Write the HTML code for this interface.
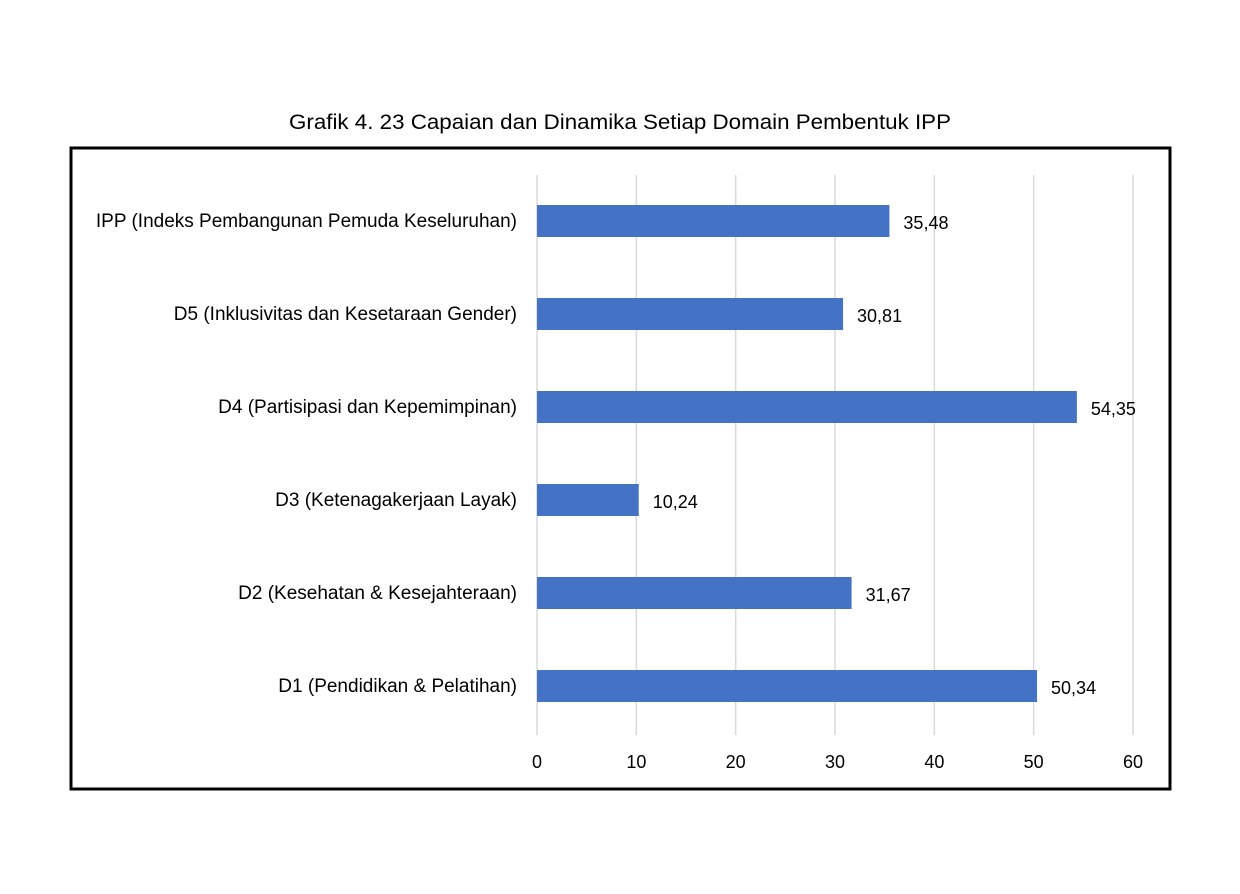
<!DOCTYPE html>
<html><head><meta charset="utf-8"><style>
body{margin:0;background:#fff;width:1240px;height:889px;overflow:hidden;font-family:"Liberation Sans",sans-serif}
</style></head><body>
<svg width="1240" height="889" xmlns="http://www.w3.org/2000/svg">
<text x="289" y="129" textLength="662" lengthAdjust="spacingAndGlyphs" font-size="21" font-family="Liberation Sans, sans-serif" fill="#000">Grafik 4. 23 Capaian dan Dinamika Setiap Domain Pembentuk IPP</text>
<rect x="71" y="148" width="1099" height="641" fill="none" stroke="#000" stroke-width="3"/>
<g id="grid"></g><g id="bars"></g><g id="labels"></g>
</svg>
<script>
const categories=["IPP (Indeks Pembangunan Pemuda Keseluruhan)","D5 (Inklusivitas dan Kesetaraan Gender)","D4 (Partisipasi dan Kepemimpinan)","D3 (Ketenagakerjaan Layak)","D2 (Kesehatan & Kesejahteraan)","D1 (Pendidikan & Pelatihan)"];
const values=[35.48,30.81,54.35,10.24,31.67,50.34];
const ticks=[0,10,20,30,40,50,60];
const NS="http://www.w3.org/2000/svg";
const x=v=>537+v*(1133-537)/60;
const y=i=>221+i*93;
function mk(t,a,p){const e=document.createElementNS(NS,t);for(const k in a)e.setAttribute(k,a[k]);p.appendChild(e);return e;}
const g=document.getElementById('grid'),b=document.getElementById('bars'),l=document.getElementById('labels');
ticks.forEach(t=>{
 const ln=mk('line',{x1:x(t),x2:x(t),y1:175,y2:735,stroke:'#d9d9d9','stroke-width':1.5},g);
 
 
 const tx=mk('text',{x:x(t),y:768,'text-anchor':'middle','font-size':18,fill:'#000'},l);
 tx.textContent=t;
 
 
});
categories.forEach((c,i)=>{
 const r=mk('rect',{x:x(0),y:y(i)-16,width:x(values[i])-x(0),height:32,fill:'#4472C4'},b);
 
 
 const ct=mk('text',{x:517,y:y(i)+6,'text-anchor':'end','font-size':19,fill:'#000'},l);
 ct.textContent=c;
 
 
 const vt=mk('text',{x:x(values[i])+14,y:y(i)+8,'font-size':18,fill:'#000'},l);
 vt.textContent=values[i].toFixed(2).replace('.',',');
 
 
});
</script>
</body></html>
